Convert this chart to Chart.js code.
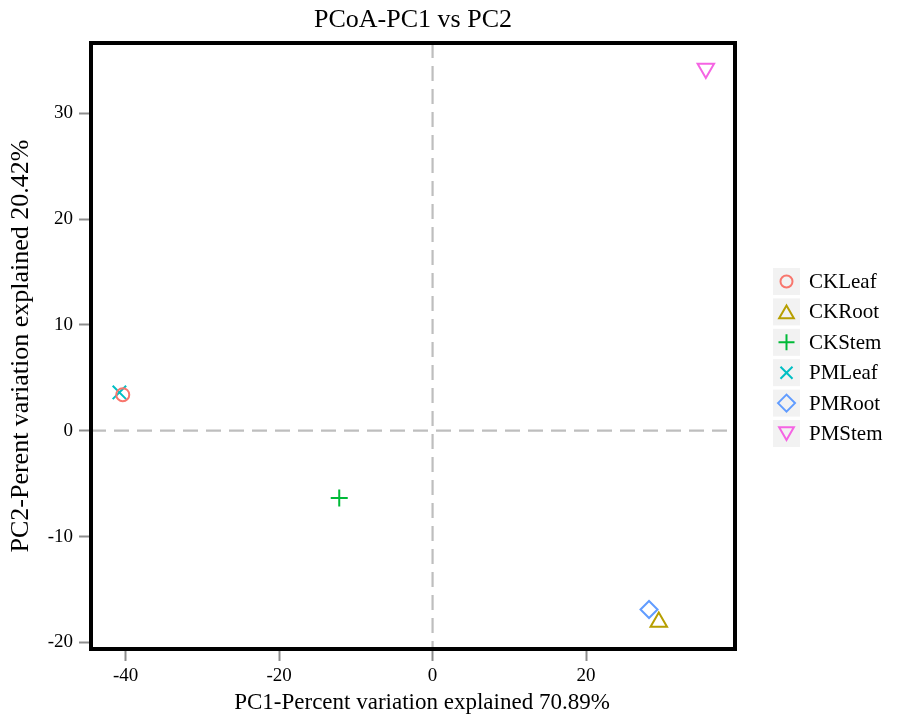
<!DOCTYPE html>
<html>
<head>
<meta charset="utf-8">
<script src="https://cdn.jsdelivr.net/npm/chart.js@4/dist/chart.umd.min.js"></script>
<style>
  html, body { margin: 0; padding: 0; background: #ffffff; }
  #wrap { width: 902px; height: 716px; }
</style>
</head>
<body>
<div id="wrap"><canvas id="pcoa" width="902" height="716"></canvas></div>
<script>
// Sample groups and their PCoA coordinates
const groups = ['CKLeaf', 'CKRoot', 'CKStem', 'PMLeaf', 'PMRoot', 'PMStem'];
const pc1 = [-40.36, 29.47, -12.16, -40.8, 28.2, 35.6];
const pc2 = [3.40, -18.07, -6.36, 3.62, -16.9, 34.24];

// Axis ticks
const xTickValues = [-40, -20, 0, 20];
const yTickValues = [-20, -10, 0, 10, 20, 30];

// Marker styling per group
const groupColors = ['#F8766D', '#B79F00', '#00BA38', '#00BFC4', '#619CFF', '#F564E3'];
const groupShapes = ['circle', 'triangle', 'cross', 'crossRot', 'rectRot', 'triangle'];
const groupRotations = [0, 0, 0, 0, 0, 180];
const groupRadii = [6.5, 9.5, 8.5, 9.5, 8.5, 9.5];

const SERIF = '"Liberation Serif", "Times New Roman", serif';

const datasets = groups.map((g, i) => ({
  label: g,
  data: [{ x: pc1[i], y: pc2[i] }],
  pointStyle: groupShapes[i],
  rotation: groupRotations[i],
  pointRadius: groupRadii[i],
  pointHoverRadius: groupRadii[i],
  borderColor: groupColors[i],
  backgroundColor: 'rgba(0,0,0,0)',
  borderWidth: 2,
  pointBorderWidth: 2
}));

// Dashed zero lines and the black frame around the plotting area
const framePlugin = {
  id: 'frameAndZero',
  beforeDatasetsDraw(chart) {
    const { ctx, chartArea: a, scales } = chart;
    const x0 = scales.x.getPixelForValue(0);
    const y0 = scales.y.getPixelForValue(0);
    ctx.save();
    ctx.strokeStyle = '#BEBEBE';
    ctx.lineWidth = 2.2;
    ctx.setLineDash([15, 8]);
    ctx.beginPath();
    ctx.moveTo(x0, a.top);
    ctx.lineTo(x0, a.bottom);
    ctx.moveTo(a.left, y0);
    ctx.lineTo(a.right, y0);
    ctx.stroke();
    ctx.setLineDash([]);
    ctx.strokeStyle = '#000000';
    ctx.lineWidth = 4;
    ctx.strokeRect(a.left, a.top, a.right - a.left, a.bottom - a.top);
    ctx.restore();
  }
};

// Chart title over the plot and the PC1 axis caption below it
const titlePlugin = {
  id: 'plotTitles',
  afterDraw(chart) {
    const { ctx, chartArea: a } = chart;
    const cx = (a.left + a.right) / 2;
    ctx.save();
    ctx.fillStyle = '#000000';
    ctx.textAlign = 'center';
    ctx.textBaseline = 'middle';
    ctx.font = '26px ' + SERIF;
    ctx.fillText('PCoA-PC1 vs PC2', cx, 20);
    ctx.font = '23px ' + SERIF;
    ctx.fillText('PC1-Percent variation explained 70.89%', cx + 9, 703);
    ctx.restore();
  }
};

// Legend on the right: grey key boxes with the group marker
const legendPlugin = {
  id: 'keyLegend',
  afterDraw(chart) {
    const { ctx } = chart;
    const boxX = 773, boxW = 27, boxH = 27, top = 268, step = 30.4;
    ctx.save();
    chart.data.datasets.forEach((ds, i) => {
      const y = top + i * step;
      ctx.fillStyle = '#F2F2F2';
      ctx.fillRect(boxX, y, boxW, boxH);
      ctx.strokeStyle = ds.borderColor;
      ctx.fillStyle = 'rgba(0,0,0,0)';
      ctx.lineWidth = 2;
      const r = ds.pointStyle === 'circle' ? 6 : (ds.pointStyle === 'cross' ? 8 : 8.5);
      Chart.helpers.drawPoint(ctx, {
        pointStyle: ds.pointStyle,
        rotation: ds.rotation,
        radius: r,
        borderWidth: 2
      }, boxX + boxW / 2, y + boxH / 2 + (ds.pointStyle === 'triangle' ? (ds.rotation ? -2 : 2) : 0));
      ctx.fillStyle = '#000000';
      ctx.font = '21px ' + SERIF;
      ctx.textAlign = 'left';
      ctx.textBaseline = 'middle';
      ctx.fillText(ds.label, 809, y + boxH / 2 + 1);
    });
    ctx.restore();
  }
};

new Chart(document.getElementById('pcoa'), {
  type: 'scatter',
  data: { datasets },
  plugins: [framePlugin, titlePlugin, legendPlugin],
  options: {
    responsive: false,
    animation: false,
    layout: { padding: { top: 43, right: 167, left: 0, bottom: 0 } },
    plugins: {
      legend: { display: false },
      title: { display: false },
      tooltip: { enabled: false }
    },
    scales: {
      x: {
        type: 'linear',
        min: -44.5,
        max: 39.4,
        afterBuildTicks(scale) { scale.ticks = xTickValues.map(v => ({ value: v })); },
        afterFit(scale) { scale.height = 67; },
        border: { display: false },
        grid: {
          drawOnChartArea: false,
          drawTicks: true,
          tickLength: 12,
          tickWidth: 2,
          tickColor: '#8C8C8C'
        },
        ticks: {
          padding: 4,
          color: '#000000',
          font: { family: SERIF, size: 19 },
          maxRotation: 0
        },
        title: { display: false }
      },
      y: {
        type: 'linear',
        min: -20.63,
        max: 36.64,
        afterBuildTicks(scale) { scale.ticks = yTickValues.map(v => ({ value: v })); },
        afterFit(scale) { scale.width = 91; },
        border: { display: false },
        grid: {
          drawOnChartArea: false,
          drawTicks: true,
          tickLength: 12,
          tickWidth: 2,
          tickColor: '#8C8C8C'
        },
        ticks: {
          padding: 6,
          color: '#000000',
          font: { family: SERIF, size: 19 }
        },
        title: {
          display: true,
          text: 'PC2-Perent variation explained 20.42%',
          color: '#000000',
          font: { family: SERIF, size: 26 },
          padding: { top: 6, bottom: 0 }
        }
      }
    }
  }
});
</script>
</body>
</html>
